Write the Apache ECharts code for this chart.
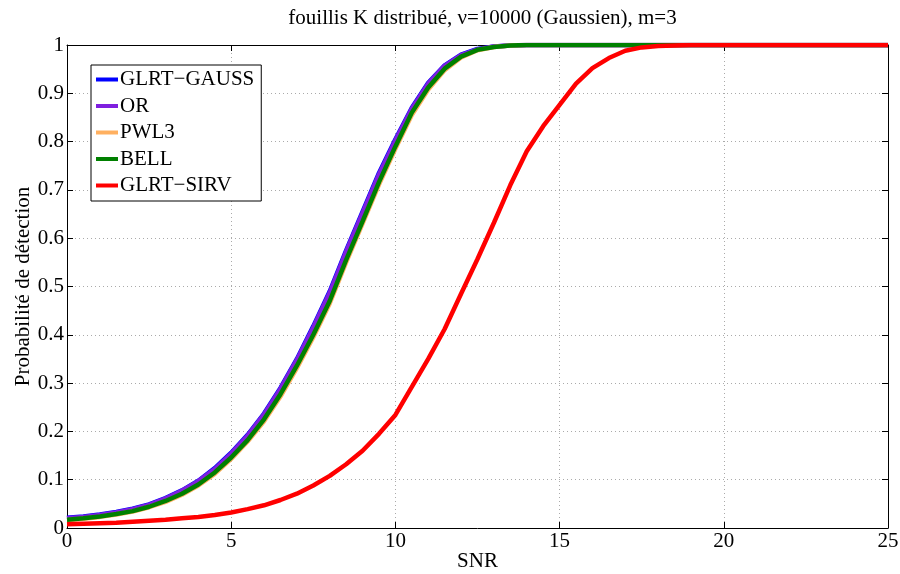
<!DOCTYPE html>
<html><head><meta charset="utf-8">
<script src="https://cdn.jsdelivr.net/npm/echarts@6/dist/echarts.min.js"></script>
<style>html,body{margin:0;padding:0;background:#fff}#c{width:900px;height:574px}</style>
</head><body><div id="c"></div>
<script>
const snr = [0,0.5,1,1.5,2,2.5,3,3.5,4,4.5,5,5.5,6,6.5,7,7.5,8,8.5,9,9.5,10,10.5,11,11.5,12,12.5,13,13.5,14,14.5,15,15.5,16,16.5,17,17.5,18,18.5,19,19.5,20,20.5,21,21.5,22,22.5,23,23.5,24,24.5,25];
const glrtGauss = [0.021,0.024,0.028,0.033,0.040,0.049,0.062,0.078,0.098,0.124,0.156,0.193,0.237,0.290,0.350,0.418,0.490,0.575,0.655,0.735,0.805,0.870,0.922,0.958,0.980,0.992,0.997,0.999,1,1,1,1,1,1,1,1,1,1,1,1,1,1,1,1,1,1,1,1,1,1,1];
const orDet = [0.020,0.023,0.027,0.032,0.039,0.048,0.061,0.077,0.097,0.122,0.154,0.191,0.235,0.288,0.348,0.415,0.487,0.572,0.652,0.732,0.802,0.868,0.920,0.957,0.979,0.991,0.997,0.999,1,1,1,1,1,1,1,1,1,1,1,1,1,1,1,1,1,1,1,1,1,1,1];
const pwl3 = [0.016,0.019,0.023,0.028,0.034,0.043,0.054,0.069,0.088,0.112,0.143,0.179,0.221,0.272,0.331,0.395,0.465,0.550,0.630,0.711,0.785,0.855,0.908,0.948,0.974,0.989,0.996,0.999,1,1,1,1,1,1,1,1,1,1,1,1,1,1,1,1,1,1,1,1,1,1,1];
const bell = [0.017,0.020,0.024,0.029,0.035,0.044,0.056,0.071,0.090,0.115,0.146,0.182,0.225,0.277,0.336,0.400,0.470,0.555,0.635,0.716,0.790,0.860,0.912,0.951,0.976,0.990,0.996,0.999,1,1,1,1,1,1,1,1,1,1,1,1,1,1,1,1,1,1,1,1,1,1,1];
const glrtSirv = [0.008,0.009,0.010,0.011,0.013,0.015,0.017,0.020,0.023,0.027,0.032,0.039,0.047,0.058,0.071,0.088,0.108,0.132,0.160,0.195,0.234,0.292,0.350,0.412,0.485,0.557,0.632,0.710,0.780,0.832,0.876,0.920,0.952,0.973,0.988,0.995,0.998,0.999,1,1,1,1,1,1,1,1,1,1,1,1,1];
const xTicks = [0,5,10,15,20,25];
const yTicks = [0,0.1,0.2,0.3,0.4,0.5,0.6,0.7,0.8,0.9,1];

const names = ['GLRT\u2212GAUSS','OR','PWL3','BELL','GLRT\u2212SIRV'];
const values = [glrtGauss, orDet, pwl3, bell, glrtSirv];
const colors = ['#0000ff','#7f1fdf','#ffb060','#008000','#ff0000'];
const FONT = 'Liberation Serif';

const chart = echarts.init(document.getElementById('c'), null, {renderer:'canvas'});
const series = names.map((n,i)=>({
  name:n, type:'line', xAxisIndex:0, yAxisIndex:0,
  data: snr.map((x,j)=>[x, values[i][j]]),
  showSymbol:false, symbol:'none', smooth:false,
  lineStyle:{color:colors[i], width:4.5}, itemStyle:{color:colors[i]},
  z: 2+i, animation:false
}));
const fmtY = v => { const r = Math.round(v*10)/10; return String(r); };
chart.setOption({
  animation:false,
  backgroundColor:'#fff',
  title:{text:'fouillis K distribué, \u03bd=10000 (Gaussien), m=3', left:477.5, textAlign:'center', top:3,
    textStyle:{fontFamily:FONT, fontSize:21, fontWeight:'normal', color:'#000'}},
  legend:{orient:'vertical', left:91, top:65, data:names,
    backgroundColor:'#fff', borderColor:'#000', borderWidth:1, padding:[4,7,5,5],
    itemWidth:22, itemHeight:4, itemGap:5.5, icon:'rect',
    textStyle:{fontFamily:FONT, fontSize:21, color:'#000', padding:[0,0,0,-3]}},
  grid:{left:67, right:12, top:45, bottom:46, containLabel:false, outerBoundsMode:'none'},
  xAxis:[{type:'value', min:0, max:25, interval:5, position:'bottom',
    name:'SNR', nameLocation:'middle', nameGap:23, nameMoveOverlap:false,
    nameTextStyle:{fontFamily:FONT, fontSize:21, color:'#000'},
    axisLine:{show:true, onZero:false, lineStyle:{color:'#000', width:1}},
    axisTick:{show:true, inside:true, length:6, lineStyle:{color:'#000'}},
    axisLabel:{fontFamily:FONT, fontSize:21, color:'#000', margin:3},
    splitLine:{show:true, lineStyle:{color:'#aaa', type:[1,3], width:1}}},
   {type:'value', min:0, max:25, interval:5, position:'top',
    axisLine:{show:true, onZero:false, lineStyle:{color:'#000', width:1}},
    axisTick:{show:true, inside:true, length:6, lineStyle:{color:'#000'}},
    axisLabel:{show:false}, splitLine:{show:false}}],
  yAxis:[{type:'value', min:0, max:1, interval:0.1, position:'left',
    name:'Probabilité de détection', nameLocation:'middle', nameGap:33, nameRotate:90, nameMoveOverlap:false,
    nameTextStyle:{fontFamily:FONT, fontSize:21, color:'#000'},
    axisLine:{show:true, onZero:false, lineStyle:{color:'#000', width:1}},
    axisTick:{show:true, inside:true, length:6, lineStyle:{color:'#000'}},
    axisLabel:{fontFamily:FONT, fontSize:21, color:'#000', margin:3, formatter:fmtY},
    splitLine:{show:true, lineStyle:{color:'#aaa', type:[1,3], width:1}}},
   {type:'value', min:0, max:1, interval:0.1, position:'right',
    axisLine:{show:true, onZero:false, lineStyle:{color:'#000', width:1}},
    axisTick:{show:true, inside:true, length:6, lineStyle:{color:'#000'}},
    axisLabel:{show:false}, splitLine:{show:false}}],
  series
});
</script></body></html>
